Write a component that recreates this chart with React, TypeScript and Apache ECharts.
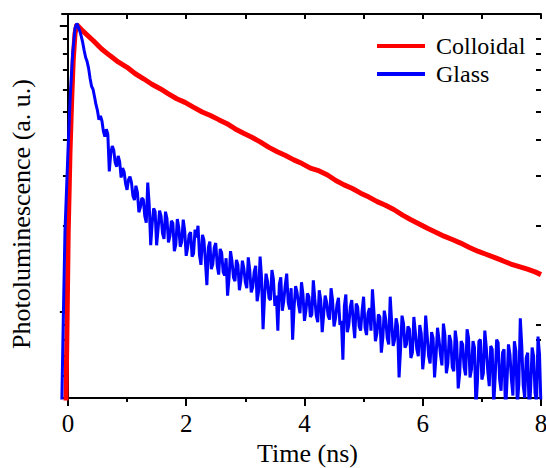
import React, { useEffect, useRef } from "react";
import * as echarts from "echarts";

// Colloidal (red) trace
const colloidalTime = [
  -0.035, -0.015, 0.005, 0.035, 0.063, 0.09, 0.12, 0.15, 0.25, 0.43, 0.57, 0.71, 0.85, 1.0,
  1.14, 1.28, 1.42, 1.56, 1.7, 1.84, 1.98, 2.12, 2.27, 2.41, 2.55, 2.69, 2.83, 2.97, 3.11,
  3.25, 3.4, 3.54, 3.68, 3.82, 3.96, 4.1, 4.25, 4.39, 4.53, 4.67, 4.81, 4.95, 5.09,
  5.23, 5.37, 5.51, 5.66, 5.8, 5.94, 6.08, 6.22, 6.36, 6.5, 6.64, 6.79, 6.93, 7.07,
  7.21, 7.35, 7.49, 7.63, 7.77, 7.9, 8.0,
];
const colloidalPL = [
  0.045, 0.09, 0.19, 0.36, 0.55, 0.76, 0.94, 1.01, 0.96, 0.887, 0.83, 0.787, 0.748, 0.716,
  0.68, 0.653, 0.625, 0.603, 0.578, 0.556, 0.54, 0.52, 0.5, 0.486, 0.47, 0.455, 0.436, 0.421, 0.408,
  0.393, 0.376, 0.363, 0.352, 0.34, 0.33, 0.318, 0.311, 0.301, 0.288, 0.278, 0.27, 0.26, 0.252,
  0.243, 0.236, 0.228, 0.218, 0.21, 0.203, 0.196, 0.19, 0.184, 0.179, 0.174, 0.168, 0.163, 0.159,
  0.155, 0.151, 0.147, 0.144, 0.141, 0.138, 0.135,
];

// Glass (blue) trace: rise, then decay sampled every 0.025 ns from 0.20 ns
const glassRiseTime = [-0.11, -0.08, -0.05, 0.0, 0.04, 0.08, 0.12, 0.15];
const glassRisePL = [0.04, 0.09, 0.19, 0.36, 0.57, 0.8, 0.98, 1.02];
const glassDecayStart = 0.2;
const glassDecayStep = 0.025;
const glassDecayPL = [
  0.96, 0.92, 0.875, 0.82, 0.775, 0.75, 0.71, 0.655, 0.615, 0.6, 0.565, 0.53, 0.505, 0.47, 0.484, 0.466, 0.428, 0.41, 0.435, 0.418,
  0.31, 0.36, 0.38, 0.368, 0.332, 0.322, 0.351, 0.335, 0.295, 0.318, 0.309, 0.281, 0.267, 0.29, 0.297, 0.283, 0.254, 0.246, 0.276, 0.262,
  0.223, 0.232, 0.25, 0.247, 0.216, 0.205, 0.283, 0.236, 0.171, 0.204, 0.23, 0.224, 0.171, 0.195, 0.226, 0.216, 0.188, 0.18, 0.224, 0.212,
  0.175, 0.184, 0.208, 0.204, 0.163, 0.172, 0.211, 0.197, 0.169, 0.176, 0.21, 0.192, 0.157, 0.168, 0.186, 0.19, 0.156, 0.16, 0.194, 0.182,
  0.2, 0.158, 0.146, 0.186, 0.178, 0.15, 0.124, 0.168, 0.176, 0.141, 0.147, 0.168, 0.174, 0.145, 0.135, 0.166, 0.161, 0.138, 0.134, 0.154,
  0.114, 0.132, 0.163, 0.15, 0.132, 0.128, 0.152, 0.146, 0.119, 0.129, 0.151, 0.142, 0.127, 0.121, 0.155, 0.14, 0.117, 0.122, 0.138, 0.145,
  0.109, 0.118, 0.156, 0.131, 0.087, 0.113, 0.136, 0.128, 0.112, 0.11, 0.14, 0.13, 0.105, 0.114, 0.086, 0.125, 0.132, 0.101, 0.109, 0.124,
  0.136, 0.108, 0.102, 0.121, 0.08, 0.104, 0.123, 0.117, 0.106, 0.099, 0.127, 0.115, 0.093, 0.101, 0.116, 0.113, 0.096, 0.098, 0.129, 0.111,
  0.097, 0.092, 0.119, 0.11, 0.085, 0.098, 0.114, 0.108, 0.097, 0.094, 0.121, 0.11, 0.089, 0.095, 0.106, 0.112, 0.09, 0.093, 0.068, 0.105,
  0.115, 0.085, 0.09, 0.104, 0.11, 0.092, 0.081, 0.107, 0.104, 0.089, 0.086, 0.101, 0.113, 0.088, 0.083, 0.099, 0.103, 0.086, 0.12, 0.1,
  0.079, 0.084, 0.098, 0.096, 0.072, 0.081, 0.101, 0.094, 0.081, 0.077, 0.113, 0.092, 0.076, 0.08, 0.095, 0.089, 0.059, 0.074, 0.097, 0.091,
  0.075, 0.077, 0.089, 0.087, 0.069, 0.072, 0.096, 0.085, 0.074, 0.07, 0.09, 0.084, 0.063, 0.071, 0.097, 0.083, 0.07, 0.066, 0.085, 0.081,
  0.059, 0.07, 0.088, 0.08, 0.071, 0.065, 0.091, 0.083, 0.061, 0.066, 0.083, 0.079, 0.064, 0.062, 0.086, 0.078, 0.054, 0.061, 0.079, 0.077,
  0.064, 0.06, 0.087, 0.081, 0.059, 0.063, 0.079, 0.075, 0.046, 0.057, 0.079, 0.08, 0.058, 0.061, 0.086, 0.075, 0.062, 0.055, 0.076, 0.074,
  0.047, 0.059, 0.08, 0.078, 0.058, 0.053, 0.072, 0.074, 0.044, 0.057, 0.077, 0.071, 0.058, 0.051, 0.079, 0.073, 0.047, 0.056, 0.095, 0.076,
  0.055, 0.05, 0.069, 0.072, 0.044, 0.054, 0.075, 0.07, 0.052, 0.048, 0.082, 0.071, 0.046,
];

// Axis ticks
const xLabelTicks = [0, 2, 4, 6, 8];
const xMinorTicks = [1, 3, 5, 7];
const xTopTicks = [0, 1, 2, 3, 4, 5, 6, 7, 8];
const yMajorTicks = [0.1, 1];
const yMinorTicks = [0.06, 0.07, 0.08, 0.09, 0.2, 0.3, 0.4, 0.5, 0.6, 0.7, 0.8, 0.9];

const FONT = "'Liberation Serif', 'Times New Roman', Times, 'DejaVu Serif', serif";
const BLACK = "#000";

export default function App() {
  const ref = useRef<HTMLDivElement>(null);

  useEffect(() => {
    if (!ref.current) return;
    const chart = echarts.init(ref.current, null, { renderer: "svg" });

    const colloidalData = colloidalTime.map((t, i) => [t, colloidalPL[i]]);
    const glassData = glassRiseTime.map((t, i) => [t, glassRisePL[i]]);
    glassDecayPL.forEach((v, i) => {
      glassData.push([+(glassDecayStart + i * glassDecayStep).toFixed(3), v]);
    });

    const lineSt = { color: BLACK, width: 2 };
    const baseY: any = {
      type: "log",
      logBase: 10,
      min: 0.05,
      max: 1.1,
      splitLine: { show: false },
      axisLabel: { show: false },
      minorTick: { show: false },
    };
    const baseX: any = {
      type: "value",
      min: -0.1,
      max: 8,
      splitLine: { show: false },
    };

    chart.setOption({
      animation: false,
      backgroundColor: "#fff",
      textStyle: { fontFamily: FONT, color: BLACK },
      grid: { left: 62, right: 5, top: 14, bottom: 70, containLabel: false, outerBoundsMode: "none" },
      legend: {
        orient: "vertical",
        left: 372,
        top: 29,
        itemWidth: 48,
        itemHeight: 4,
        itemGap: 4,
        data: [
          { name: "Colloidal", icon: "rect" },
          { name: "Glass", icon: "rect" },
        ],
        textStyle: { fontFamily: FONT, fontSize: 24, color: BLACK, padding: [0, 0, 0, 6] },
      },
      xAxis: [
        {
          ...baseX,
          position: "bottom",
          name: "Time (ns)",
          nameLocation: "middle",
          nameGap: 33,
          nameTextStyle: { fontFamily: FONT, fontSize: 26, color: BLACK, padding: [0, 0, 0, 12] },
          axisLine: { show: true, onZero: false, lineStyle: lineSt },
          axisTick: { show: true, inside: false, length: 8, customValues: xLabelTicks, lineStyle: lineSt },
          axisLabel: {
            show: true,
            customValues: xLabelTicks,
            fontFamily: FONT,
            fontSize: 25,
            color: BLACK,
            margin: 13,
          },
        },
        {
          ...baseX,
          position: "bottom",
          axisLine: { show: false, onZero: false },
          axisTick: { show: true, inside: false, length: 4, customValues: xMinorTicks, lineStyle: lineSt },
          axisLabel: { show: false },
        },
        {
          ...baseX,
          position: "top",
          axisLine: { show: true, onZero: false, lineStyle: lineSt },
          axisTick: { show: true, inside: true, length: 5, customValues: xTopTicks, lineStyle: lineSt },
          axisLabel: { show: false },
        },
      ],
      yAxis: [
        {
          ...baseY,
          position: "left",
          name: "Photoluminescence (a. u.)",
          nameLocation: "middle",
          nameGap: 28,
          nameTextStyle: { fontFamily: FONT, fontSize: 26, color: BLACK, padding: [0, 16, 0, 0] },
          axisLine: { show: true, lineStyle: lineSt },
          axisTick: { show: true, inside: false, length: 8, customValues: yMajorTicks, lineStyle: lineSt },
        },
        {
          ...baseY,
          position: "left",
          axisLine: { show: false },
          axisTick: { show: true, inside: false, length: 5, customValues: yMinorTicks, lineStyle: lineSt },
        },
        {
          ...baseY,
          position: "right",
          axisLine: { show: true, lineStyle: lineSt },
          axisTick: { show: true, inside: true, length: 8, customValues: yMajorTicks, lineStyle: lineSt },
        },
        {
          ...baseY,
          position: "right",
          axisLine: { show: false },
          axisTick: { show: true, inside: true, length: 5, customValues: yMinorTicks, lineStyle: lineSt },
        },
      ],
      series: [
        {
          name: "Colloidal",
          type: "line",
          xAxisIndex: 0,
          yAxisIndex: 0,
          showSymbol: false,
          symbol: "none",
          clip: true,
          data: colloidalData,
          itemStyle: { color: "#ff0000" },
          lineStyle: { color: "#ff0000", width: 5 },
        },
        {
          name: "Glass",
          type: "line",
          xAxisIndex: 0,
          yAxisIndex: 0,
          showSymbol: false,
          symbol: "none",
          clip: true,
          data: glassData,
          itemStyle: { color: "#0000ff" },
          lineStyle: { color: "#0000ff", width: 3 },
        },
      ],
    });

    return () => chart.dispose();
  }, []);

  return (
    <div
      ref={ref}
      style={{ position: "absolute", left: 0, top: 0, width: 546, height: 468, background: "#fff" }}
    />
  );
}
